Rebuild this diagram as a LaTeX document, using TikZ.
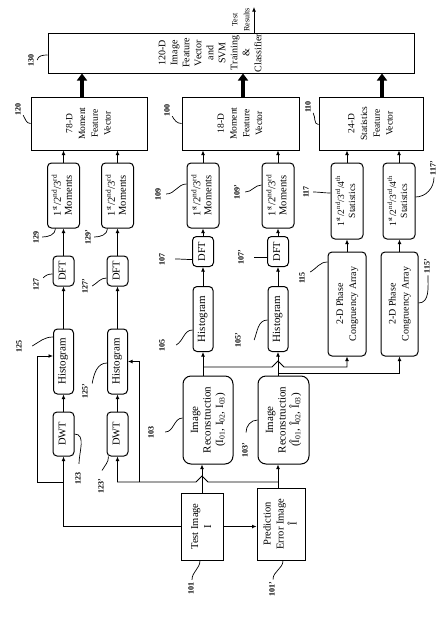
\documentclass[tikz,border=0pt]{standalone}
\usepackage{fontspec}
\setmainfont{Liberation Serif}
\usepackage{graphicx}
\usetikzlibrary{arrows.meta}
\newcommand\rt[1]{\rotatebox{90}{\begin{tabular}{@{}c@{}}#1\end{tabular}}}
\newcommand\ords{1\textsuperscript{st}/2\textsuperscript{nd}/3\textsuperscript{rd}}
\tikzset{
    box/.style = {draw, line width = 1pt, inner sep = 0pt, font = \fontsize{10.5}{11}\selectfont},
    rbox/.style = {box, rounded corners = 4pt},
    fvec/.style = {box, font = \fontsize{9.5}{12.7}\selectfont},
    arr/.style = {line width = 0.9pt, -{Latex[length = 4.5pt, width = 4pt]}},
    fat/.style = {line width = 4.5pt, -{Triangle[length = 7pt, width = 10pt]}},
    lead/.style = {line width = 0.7pt},
    num/.style = {inner sep = 0pt, font = \fontsize{8}{8}\selectfont\bfseries}
}
\begin{document}
\begin{tikzpicture}[x = 1pt, y = -1pt]
    \useasboundingbox (0,0) rectangle (446,619);
    \node[box, minimum width = 366pt, minimum height = 40pt] (b130) at (231,53) {};
    \node[font = \fontsize{10}{12}\selectfont, inner sep = 0pt] (t130) at (211,53) {\rt{120-D\\Image\\Feature\\Vector\\and\\SVM\\Training\\\&\\Classifier}};
    \node[fvec, minimum width = 116pt, minimum height = 53pt] (b120) at (89,123.5) {\rt{78-D\\Moment\\Feature\\Vector}};
    \node[fvec, minimum width = 117pt, minimum height = 53pt] (b100) at (240.5,123.5) {\rt{18-D\\Moment\\Feature\\Vector}};
    \node[fvec, minimum width = 104pt, minimum height = 53pt] (b110) at (371,123.5) {\rt{24-D\\Statistics\\Feature\\Vector}};

    \begin{scope}[every node/.append style = {rbox, minimum width = 32pt, minimum height = 65pt}]
        \node (m129) at (63.5,195.5) {\rt{\ords\\Moments}};
        \node (m129p) at (117.5,195.5) {\rt{\ords\\Moments}};
        \node (m109) at (203,195.5) {\rt{\ords\\Moments}};
        \node (m109p) at (278,195.5) {\rt{\ords\\Moments}};
        \node[minimum height = 76pt, font = \fontsize{9.5}{11}\selectfont] (s117) at (347,201) {\rt{\ords/4\textsuperscript{th}\\Statistics}};
        \node[minimum height = 76pt, font = \fontsize{9.5}{11}\selectfont] (s117p) at (399,201) {\rt{\ords/4\textsuperscript{th}\\Statistics}};
    \end{scope}
    \begin{scope}[every node/.append style = {rbox, minimum width = 21pt, minimum height = 30pt}]
        \node (f127) at (63.5,271) {\rt{DFT}};
        \node (f127p) at (117.5,271) {\rt{DFT}};
        \node (f107) at (203,251.5) {\rt{DFT}};
        \node (f107p) at (278,251.5) {\rt{DFT}};
        \node[minimum height = 44pt] (d123) at (63.5,434) {\rt{DWT}};
        \node[minimum height = 44pt] (d123p) at (117.5,434) {\rt{DWT}};
    \end{scope}
    \begin{scope}[every node/.append style = {rbox, minimum width = 20pt, minimum height = 65pt, font = \fontsize{11}{11}\selectfont}]
        \node (h125) at (63.5,361.5) {\rt{Histogram}};
        \node (h125p) at (117.5,361.5) {\rt{Histogram}};
        \node (h105) at (203,319) {\rt{Histogram}};
        \node (h105p) at (278,319) {\rt{Histogram}};
    \end{scope}
    \node[rbox, minimum width = 38pt, minimum height = 104pt, font = \fontsize{10}{13}\selectfont] (pc115) at (347,304) {\rt{2-D Phase\\Congruency Array}};
    \node[rbox, minimum width = 37pt, minimum height = 104pt, font = \fontsize{10}{13}\selectfont] (pc115p) at (399.5,304) {\rt{2-D Phase\\Congruency Array}};
    \node[box, rounded corners = 8pt, minimum width = 50pt, minimum height = 88pt, font = \fontsize{11}{12.5}\selectfont] (r103) at (208,420)
        {\rt{Image\\Reconstruction\\(I\textsubscript{01}, I\textsubscript{02}, I\textsubscript{03})}};
    \node[box, rounded corners = 8pt, minimum width = 51pt, minimum height = 88pt, font = \fontsize{11}{12.5}\selectfont] (r103p) at (283.5,420)
        {\rt{Image\\Reconstruction\\(\^{I}\textsubscript{01}, \^{I}\textsubscript{02}, \^{I}\textsubscript{03})}};
    \node[box, minimum width = 42pt, minimum height = 67pt, font = \fontsize{10.5}{13}\selectfont] (t101) at (202,526.5) {\rt{Test Image\\I}};
    \node[box, minimum width = 48pt, minimum height = 72pt, font = \fontsize{10.5}{13}\selectfont] (p101) at (281,524) {\rt{Prediction\\Error Image\\\^{I}}};

    \draw[fat] ([xshift = -7pt]b120.north) -- ([xshift = -7pt]b120.north |- b130.south);
    \draw[fat] ([xshift = 2.5pt]b100.north) -- ([xshift = 2.5pt]b100.north |- b130.south);
    \draw[fat] ([xshift = 11pt]b110.north) -- ([xshift = 11pt]b110.north |- b130.south);
    \coordinate (res) at (254,7);
    \draw[arr] (res |- b130.north) -- (res);
    \node[inner sep = 0pt, font = \fontsize{8}{12}\selectfont] (tres) at (241,20) {\rt{Test\\Results}};

    \foreach \a/\b in {d123/h125, h125/f127, f127/m129, m129/b120, d123p/h125p, h125p/f127p, f127p/m129p, m129p/b120,
                       h105/f107, f107/m109, m109/b100, h105p/f107p, f107p/m109p, m109p/b100,
                       pc115/s117, s117/b110, pc115p/s117p, s117p/b110}
        \draw[arr] (\a.north) -- (\a.north |- \b.south);

    \draw[arr] (t101.west) -| (d123.south);
    \draw[arr] (t101.east) -- (t101.east -| p101.west);
    \draw[arr] (t101.north) -- (t101.north |- r103.south);
    \draw[arr] ([xshift = -3pt]p101.north) -- ([xshift = -3pt]p101.north |- r103p.south);
    \coordinate (j1) at (63.5,482);
    \coordinate (j2) at (278,482);
    \coordinate (j3) at (139,482);
    \coordinate (j4) at (203,367);
    \coordinate (j5) at (278,373);
    \draw[arr] (j1) -- (37,482) |- ([yshift = 5.5pt]h125.west);
    \draw[arr] (j2) -- (208,482) -- (202,476) -- (196,482) -| (d123p.south);
    \draw[arr] (j3) |- (h125p.east);
    \draw[arr] (h105.south |- r103.north) -- (h105.south);
    \draw[arr] (h105p.south |- r103p.north) -- (h105p.south);
    \draw[arr] (j4) -- (272,367) -- (278,361) -- (284,367) -| (pc115.south);
    \draw[arr] (j5) -| (pc115p.south);

    \begin{scope}[every node/.append style = {num}]
        \node (l130) at (32,60) {\rt{130}};
        \node (l120) at (19,109) {\rt{120}};
        \node (l100) at (168,110) {\rt{100}};
        \node (l110) at (309,107) {\rt{110}};
        \node (l129) at (37,237) {\rt{129}};
        \node (l129p) at (89,237) {\rt{129'}};
        \node (l127) at (37,284) {\rt{127}};
        \node (l127p) at (86,286) {\rt{127'}};
        \node (l125) at (20,346) {\rt{125}};
        \node (l125p) at (86,391) {\rt{125'}};
        \node (l123) at (79,478) {\rt{123}};
        \node (l123p) at (102,486) {\rt{123'}};
        \node (l109) at (159,194) {\rt{109}};
        \node (l107) at (163,259) {\rt{107}};
        \node (l105) at (163,345) {\rt{105}};
        \node (l103) at (152,432) {\rt{103}};
        \node (l109p) at (238,192) {\rt{109'}};
        \node (l107p) at (242,257) {\rt{107'}};
        \node (l105p) at (239,340) {\rt{105'}};
        \node (l103p) at (246,450) {\rt{103'}};
        \node (l117) at (307,192) {\rt{117}};
        \node (l115) at (303,278) {\rt{115}};
        \node (l117p) at (434,168) {\rt{117'}};
        \node (l115p) at (428,266) {\rt{115'}};
        \node (l101) at (192,588) {\rt{101}};
        \node (l101p) at (273,589) {\rt{101'}};
    \end{scope}

    \draw[lead] ([xshift = 1pt]l130.east) to[out = 80, in = 180] ([yshift = -2pt]b130.west);
    \draw[lead] (l120.south east) to[out = -60, in = 180] (b120.west);
    \draw[lead] (l100.south east) to[out = -60, in = 180] (b100.west);
    \draw[lead] (l110.south east) to[out = -60, in = 180] ([yshift = -1pt]b110.west);
    \draw[lead] ([xshift = 1pt]l129.east) to[out = 0, in = 270] ([xshift = -8pt]m129.south);
    \draw[lead] ([xshift = 1pt]l129p.east) to[out = 0, in = 270] ([xshift = -10pt]m129p.south);
    \draw[lead] ([xshift = 2pt]l127.north east) to[out = 45, in = 180] ([yshift = -3pt]f127.west);
    \draw[lead] ([xshift = 2pt]l127p.east) to[out = 30, in = 180] ([yshift = -7pt]f127p.west);
    \draw[lead] ([xshift = 8pt]l125.east) to[out = 30, in = 180] ([yshift = 24.5pt]h125.west);
    \draw[lead] ([xshift = 2pt]l125p.north east) to[out = 80, in = 180] ([yshift = -1.5pt]h125p.west);
    \draw[lead] ([yshift = 8pt]l123.north) to[out = 90, in = 0] (d123.east);
    \draw[lead] ([yshift = 8pt]l123p.north) to[out = 60, in = 270] ([xshift = -9pt]d123p.south);
    \draw[lead] ([xshift = 3pt]l109.east) to[out = 0, in = 180] ([yshift = 11.5pt]m109.west);
    \draw[lead] ([xshift = 8pt]l107.east) to[out = 0, in = 180] ([yshift = -8pt]f107.west);
    \draw[lead] ([xshift = 9pt]l105.east) to[out = 30, in = 180] ([yshift = -11pt]h105.west);
    \draw[lead] ([xshift = 9pt]l103.east) to[out = 0, in = 180] ([yshift = 2pt]r103.west);
    \draw[lead] ([xshift = 3pt]l109p.east) to[out = 0, in = 180] ([yshift = 10.5pt]m109p.west);
    \draw[lead] ([xshift = 8pt]l107p.east) -- ([yshift = -5.5pt]f107p.west);
    \draw[lead] ([xshift = 11pt]l105p.east) to[out = 70, in = 180] ([yshift = -1pt]h105p.west);
    \draw[lead] ([yshift = 10pt]l103p.north) to[out = 90, in = 180] (r103p.west);
    \draw[lead] ([xshift = 2pt]l117.east) to[out = 0, in = 180] ([yshift = 8pt]s117.west);
    \draw[lead] ([xshift = 3pt]l115.north east) to[out = 30, in = 180] ([yshift = 42pt]pc115.west);
    \draw[lead] ([yshift = -2pt]l117p.south) to[out = 270, in = 0] ([yshift = 4pt]s117p.east);
    \draw[lead] ([yshift = -2pt]l115p.south) to[out = 270, in = 0] ([yshift = 1pt]pc115p.east);
    \draw[lead] ([yshift = 2pt]l101.north) to[out = 90, in = 270] ([xshift = -2pt]t101.south);
    \draw[lead] ([yshift = 2pt]l101p.north) to[out = 90, in = 270] ([xshift = 2pt]p101.south);
\end{tikzpicture}
\end{document}
